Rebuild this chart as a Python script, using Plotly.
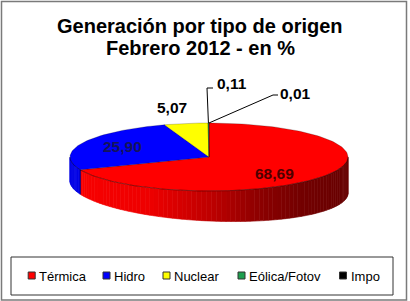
import numpy as np
import plotly.graph_objects as go

# ---------------- data ----------------
categories = ["Térmica", "Hidro", "Nuclear", "Eólica/Fotov", "Impo"]
values = [68.69, 25.90, 5.07, 0.11, 0.01]
value_labels = ["68,69", "25,90", "5,07", "0,11", "0,01"]
title_lines = ["Generación por tipo de origen", "Febrero 2012 - en %"]

# ---------------- style ----------------
FONT = "Liberation Sans, Arial, sans-serif"
W, H = 410, 301
TOP_COLORS = ["#FF0000", "#0000FF", "#FFFF00", "#1E9E4E", "#000000"]
SIDE_FLAT = [None, "#0000E6", "#E0E000", "#167A3A", "#000000"]
RED_STOPS_X = [70, 150, 209, 260, 300, 348]
RED_STOPS_R = [250, 238, 192, 140, 116, 104]
LABEL_COLORS = ["#4d0000", "#14145a", "#000000", "#000000", "#000000"]
LABEL_XY = [(274, 173), (122, 146), (172, 107), (232, 83), (295, 93)]
LEADER_PTS = {3: [(207, 88), (213, 88)], 4: [(273, 95), (278, 95)]}
PIE = dict(cx=209, cy=157, rx=139, ry=34, d0=30, d1=6)
LEGEND_KEY_X = [31.7, 106.5, 166.5, 241.5, 343.0]
LEGEND_Y = 276
LEGEND_BOX = (11, 257, 393, 295)

cx, cy, rx, ry, d0, d1 = (PIE[k] for k in ["cx", "cy", "rx", "ry", "d0", "d1"])


def top_xy(th):
    th = np.asarray(th, dtype=float)
    return cx + rx * np.sin(th), cy - ry * np.cos(th)


def bot_y(th):
    th = np.asarray(th, dtype=float)
    _, y = top_xy(th)
    return y + d0 + d1 * np.sin(th)


def side_color(i, xm):
    if i == 0:
        r = np.interp(xm, RED_STOPS_X, RED_STOPS_R)
        return "rgb(%d,0,0)" % int(r)
    return SIDE_FLAT[i]


fig = go.Figure()
tot = float(sum(values))
bounds = np.concatenate([[0.0], np.cumsum(values) / tot * 2 * np.pi])

# ---- side (front) faces ----
for i in range(len(values)):
    a0, a1 = bounds[i], bounds[i + 1]
    s0, s1 = max(a0, np.pi / 2), min(a1, 3 * np.pi / 2)
    if s1 <= s0:
        continue
    nstrips = max(1, int((s1 - s0) / np.pi * 90))
    edges = np.linspace(s0, s1, nstrips + 1)
    for j in range(nstrips):
        t = np.linspace(edges[j], edges[j + 1], 4)
        xt, yt = top_xy(t)
        yb = bot_y(t)
        X = list(xt) + list(xt[::-1]) + [xt[0]]
        Y = list(yt) + list(yb[::-1]) + [yt[0]]
        col = side_color(i, float(np.mean(xt)))
        fig.add_trace(go.Scatter(x=X, y=Y, mode="lines", fill="toself",
                                 fillcolor=col, line=dict(width=0.6, color=col),
                                 hoverinfo="skip", showlegend=False))
    # seam lines between side segments
    for b in (a0, a1):
        if np.pi / 2 < b < 3 * np.pi / 2:
            xt, yt = top_xy(b)
            fig.add_trace(go.Scatter(x=[float(xt), float(xt)], y=[float(yt), float(bot_y(b))],
                                     mode="lines", line=dict(width=0.8, color="rgba(0,0,0,0.45)"),
                                     hoverinfo="skip", showlegend=False))

# ---- top faces ----
for i in range(len(values)):
    a0, a1 = bounds[i], bounds[i + 1]
    n = max(2, int((a1 - a0) / (2 * np.pi) * 240))
    t = np.linspace(a0, a1, n)
    xt, yt = top_xy(t)
    X = [cx] + list(xt) + [cx]
    Y = [cy] + list(yt) + [cy]
    fig.add_trace(go.Scatter(x=X, y=Y, mode="lines", fill="toself",
                             fillcolor=TOP_COLORS[i],
                             line=dict(width=0.6, color="rgba(0,0,0,0.35)"),
                             hoverinfo="skip", showlegend=False))

# front rim line
t = np.linspace(np.pi / 2, 3 * np.pi / 2, 120)
xt, yt = top_xy(t)
fig.add_trace(go.Scatter(x=xt, y=yt, mode="lines", line=dict(width=0.8, color="rgba(0,0,0,0.35)"),
                         hoverinfo="skip", showlegend=False))

# ---- labels & leader lines ----
annotations = []
for i, lab in enumerate(value_labels):
    lx, ly = LABEL_XY[i]
    annotations.append(dict(x=lx, y=ly, xref="x", yref="y", text="<b>%s</b>" % lab,
                            showarrow=False, font=dict(family=FONT, size=15.5, color=LABEL_COLORS[i]),
                            xanchor="center", yanchor="middle"))
    if i in LEADER_PTS:
        mid = (bounds[i] + bounds[i + 1]) / 2
        ax, ay = top_xy(mid)
        pts = [(float(ax), float(ay))] + LEADER_PTS[i]
        fig.add_trace(go.Scatter(x=[p[0] for p in pts], y=[p[1] for p in pts], mode="lines",
                                 line=dict(width=1, color="#000000"),
                                 hoverinfo="skip", showlegend=False))

# ---- title ----
annotations.append(dict(x=200, y=26, xref="x", yref="y", text="<b>%s</b>" % title_lines[0],
                        showarrow=False, font=dict(family=FONT, size=20, color="#000000"),
                        xanchor="center", yanchor="middle"))
annotations.append(dict(x=200, y=48, xref="x", yref="y", text="<b>%s</b>" % title_lines[1],
                        showarrow=False, font=dict(family=FONT, size=20, color="#000000"),
                        xanchor="center", yanchor="middle"))

# ---- legend (manual) ----
fig.add_trace(go.Scatter(x=LEGEND_KEY_X, y=[LEGEND_Y - 0.5] * len(categories), mode="markers",
                         marker=dict(symbol="square", size=7, color=TOP_COLORS,
                                     line=dict(width=1, color="#333333")),
                         hoverinfo="skip", showlegend=False))
for i, cat in enumerate(categories):
    annotations.append(dict(x=LEGEND_KEY_X[i] + 5.5, y=LEGEND_Y, xref="x", yref="y", text=cat,
                            showarrow=False, font=dict(family=FONT, size=13, color="#000000"),
                            xanchor="left", yanchor="middle"))

shapes = [
    dict(type="rect", xref="x", yref="y", x0=LEGEND_BOX[0], y0=LEGEND_BOX[1],
         x1=LEGEND_BOX[2], y1=LEGEND_BOX[3], line=dict(width=1, color="#333333")),
    dict(type="rect", xref="x", yref="y", x0=1.5, y0=1.5, x1=406.5, y1=300,
         line=dict(width=1.5, color="#7a7a7a")),
]

fig.update_layout(
    width=W, height=H, margin=dict(l=0, r=0, t=0, b=0),
    paper_bgcolor="white", plot_bgcolor="white",
    xaxis=dict(range=[0, W], visible=False, fixedrange=True),
    yaxis=dict(range=[H, 0], visible=False, fixedrange=True),
    annotations=annotations, shapes=shapes, showlegend=False,
)

fig.write_html("out.html")
